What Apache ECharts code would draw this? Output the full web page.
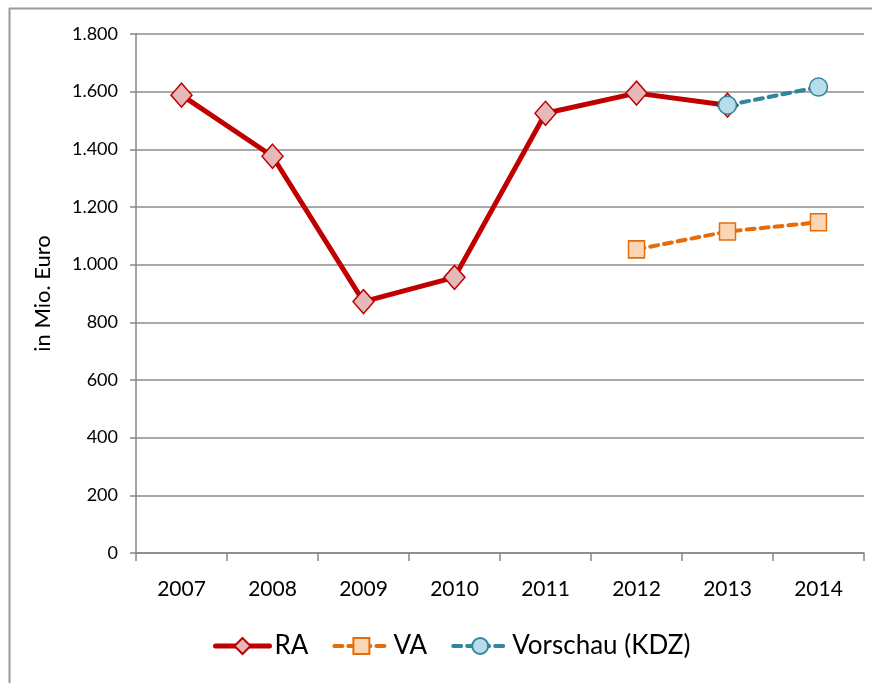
<!DOCTYPE html>
<html><head><meta charset="utf-8">
<script src="https://cdn.jsdelivr.net/npm/echarts@6/dist/echarts.min.js"></script>
<style>html,body{margin:0;padding:0;background:#fff}#c{width:873px;height:683px}</style>
</head><body><div id="c"></div>
<script>
const categories = ['2007','2008','2009','2010','2011','2012','2013','2014'];
const raValues = [1588, 1376, 872, 956, 1525, 1595, 1553, null];
const vaValues = [null, null, null, null, null, 1053, 1115, 1147];
const vorschauValues = [null, null, null, null, null, null, 1553, 1616];
const yTicks = {min: 0, max: 1800, interval: 200};
const yTitle = 'in Mio. Euro';

const FONT = 'Lato, "Open Sans", sans-serif';
const chart = echarts.init(document.getElementById('c'));
chart.setOption({
  animation: false,
  backgroundColor: '#fff',
  graphic: [
    {type: 'line', shape: {x1: 9, y1: 8.5, x2: 872, y2: 8.5}, style: {stroke: '#9a9a9a', lineWidth: 2}, silent: true},
    {type: 'line', shape: {x1: 9.5, y1: 8, x2: 9.5, y2: 683}, style: {stroke: '#9a9a9a', lineWidth: 2}, silent: true}
  ],
  grid: {left: 136, right: 9, top: 34, bottom: 130},
  legend: {
    top: 628, left: 208, itemWidth: 54, itemHeight: 20, itemGap: 24,
    lineStyle: {width: 'inherit', type: 'inherit'},
    textStyle: {fontFamily: FONT, fontSize: 26, color: '#000'},
    data: ['RA', 'VA', 'Vorschau (KDZ)']
  },
  xAxis: {
    type: 'category', data: categories, boundaryGap: true,
    axisLine: {lineStyle: {color: '#868686', width: 1.5}},
    axisTick: {show: true, length: 8, lineStyle: {color: '#868686', width: 1.5}},
    axisLabel: {fontFamily: FONT, fontSize: 21, color: '#000', margin: 26}
  },
  yAxis: {
    type: 'value', min: yTicks.min, max: yTicks.max, interval: yTicks.interval,
    name: yTitle, nameLocation: 'middle', nameGap: 82,
    nameTextStyle: {fontFamily: FONT, fontSize: 22, color: '#000'},
    axisLine: {show: true, lineStyle: {color: '#868686', width: 1.5}},
    axisTick: {show: true, length: 6, lineStyle: {color: '#868686', width: 1.5}},
    axisLabel: {fontFamily: FONT, fontSize: 18, color: '#000', margin: 18,
      formatter: v => v >= 1000 ? Math.floor(v/1000) + '.' + String(v%1000).padStart(3,'0') : String(v)},
    splitLine: {lineStyle: {color: '#8c8c8c', width: 1.5}}
  },
  series: [
    {name: 'RA', type: 'line', data: raValues, symbol: 'diamond', symbolSize: [21, 24],
     lineStyle: {color: '#C00000', width: 5, cap: 'round'}, itemStyle: {color: '#E6B9B8', borderColor: '#C00000', borderWidth: 1.5}, z: 2},
    {name: 'VA', type: 'line', data: vaValues, symbol: 'rect', symbolSize: [16, 17],
     lineStyle: {color: '#E46C0A', width: 4, type: [8, 6], cap: 'round'}, itemStyle: {color: '#FCD5B5', borderColor: '#E46C0A', borderWidth: 1.5}, z: 3},
    {name: 'Vorschau (KDZ)', type: 'line', data: vorschauValues, symbol: 'circle', symbolSize: 18,
     lineStyle: {color: '#31859C', width: 4, type: [8, 6], cap: 'round'}, itemStyle: {color: '#B7DEE8', borderColor: '#31859C', borderWidth: 1.5}, z: 4}
  ]
});
</script></body></html>
